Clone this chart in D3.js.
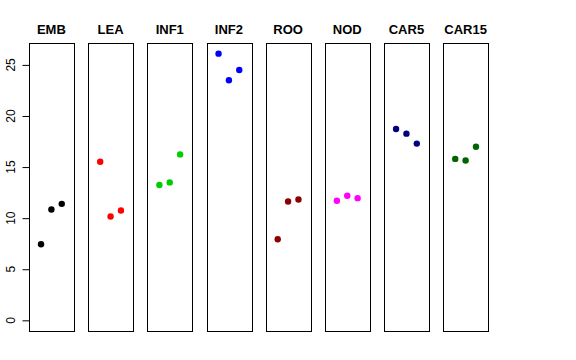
<!DOCTYPE html>
<html>
<head>
<meta charset="utf-8">
<script src="https://cdn.jsdelivr.net/npm/d3@7"></script>
<style>
  body { margin: 0; background: #fff; }
  svg { display: block; font-family: "Liberation Sans", Arial, sans-serif; }
</style>
</head>
<body>
<div id="chart"></div>
<script>
var groups = ["EMB", "LEA", "INF1", "INF2", "ROO", "NOD", "CAR5", "CAR15"];
var colors = ["#000000", "#FF0000", "#00CD00", "#0000FF", "#8B0000", "#FF00FF", "#000080", "#006400"];
var rep1 = [7.45, 15.52, 13.24, 26.1, 7.94, 11.7, 18.73, 15.8];
var rep2 = [10.85, 10.16, 13.5, 23.5, 11.63, 12.19, 18.27, 15.65];
var rep3 = [11.4, 10.75, 16.24, 24.5, 11.83, 11.96, 17.3, 16.99];
var yTicks = [0, 5, 10, 15, 20, 25];

var WIDTH = 576, HEIGHT = 360;
var svg = d3.select("#chart").append("svg")
    .attr("width", WIDTH)
    .attr("height", HEIGHT);

// R style: 4% extension of the data range on each side
var yMax = d3.max(rep1.concat(rep2, rep3));
var yPad = yMax * 0.04;
var y = d3.scaleLinear().domain([-yPad, yMax + yPad]).range([331, 43]);

var band = d3.scaleBand().domain(groups).range([29, 488])
    .paddingInner(0.243).paddingOuter(0);

groups.forEach(function (g, i) {
    var left = band(g), w = band.bandwidth();
    var x = d3.scaleLinear().domain([-0.16, 4.16]).range([left, left + w]);
    var panel = svg.append("g");

    panel.append("rect")
        .attr("x", Math.round(left) + 0.5)
        .attr("y", 43.5)
        .attr("width", Math.round(w))
        .attr("height", 288)
        .attr("fill", "none")
        .attr("stroke", "#000")
        .attr("stroke-width", 1);

    panel.append("text")
        .attr("x", left + w / 2)
        .attr("y", 34)
        .attr("text-anchor", "middle")
        .attr("font-weight", "bold")
        .attr("font-size", "13px")
        .text(g);

    var vals = [rep1[i], rep2[i], rep3[i]];
    panel.selectAll("circle")
        .data(vals).enter()
        .append("circle")
        .attr("cx", function (d, j) { return x(j + 1); })
        .attr("cy", function (d) { return y(d); })
        .attr("r", 3.2)
        .attr("fill", colors[i]);
});

// y axis
var axis = svg.append("g").attr("transform", "translate(29.5,0)");
axis.call(d3.axisLeft(y).tickValues(yTicks).tickSize(7).tickFormat(d3.format("d")))
    .call(function (a) {
        a.select(".domain").attr("d", "M0," + y(0) + "V" + y(25));
        a.selectAll("text").remove();
    });

axis.selectAll("text.lbl")
    .data(yTicks).enter()
    .append("text")
    .attr("class", "lbl")
    .attr("transform", function (d) { return "translate(-15," + y(d) + ") rotate(-90)"; })
    .attr("text-anchor", "middle")
    .attr("font-size", "12px")
    .attr("fill", "#000")
    .text(function (d) { return d; });
</script>
</body>
</html>
